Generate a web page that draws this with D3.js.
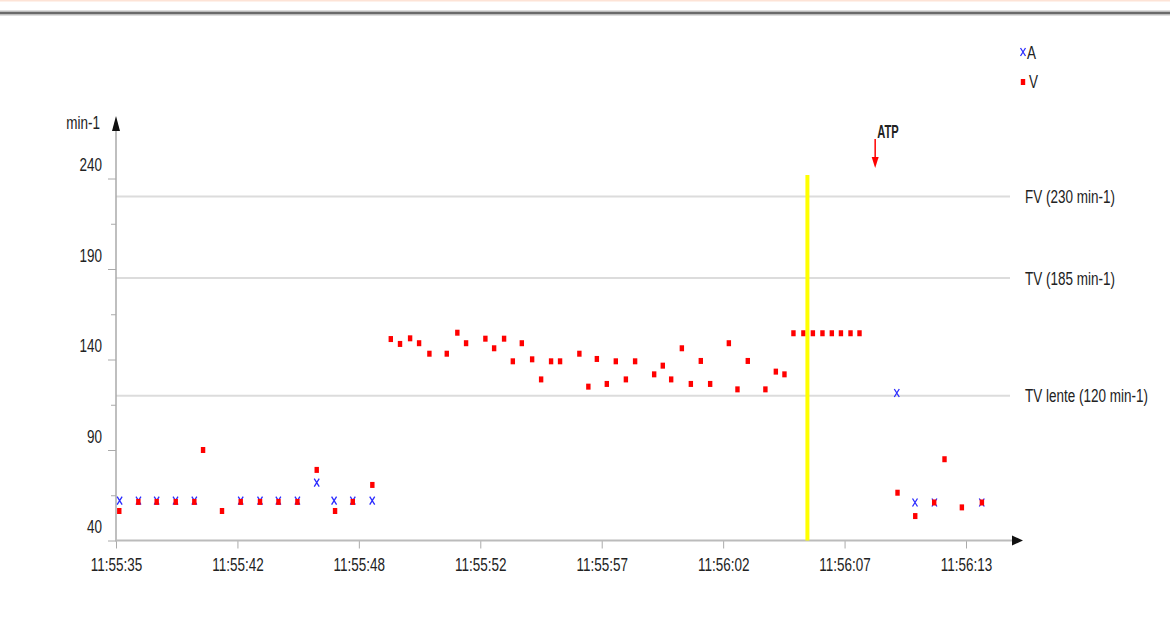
<!DOCTYPE html>
<html>
<head>
<meta charset="utf-8">
<script src="https://cdn.jsdelivr.net/npm/d3@7"></script>
<style>
    html, body { margin: 0; padding: 0; background: #fff; }
    svg text { font-family: 'Liberation Sans', Arial, sans-serif; fill: #222; }
</style>
</head>
<body>
<svg id="chart" width="1170" height="634"></svg>
<script>
'use strict';

// ------------ DATA ---------------- //

// x values are in axis divisions (one division between two labelled ticks)
const X_LABELS = ['11:55:35', '11:55:42', '11:55:48', '11:55:52', '11:55:57', '11:56:02', '11:56:07', '11:56:13'];
const Y_MAJOR  = [40, 90, 140, 190, 240];
const Y_MINOR  = [65, 115, 165, 215];

const LIMITS       = [230, 185, 120];
const LIMIT_LABELS = ['FV (230 min-1)', 'TV (185 min-1)', 'TV lente (120 min-1)'];

const A_X = [0.03, 0.185, 0.335, 0.49, 0.645, 1.027, 1.186, 1.337, 1.494, 1.653, 1.796, 1.95, 2.11,
             6.43, 6.58, 6.74, 7.13];
const A_Y = [62, 62, 62, 62, 62, 62, 62, 62, 62, 72, 62, 62, 62,
             121.5, 61, 61, 61];

const V_X = [0.027, 0.184, 0.335, 0.492, 0.645, 0.717, 0.873, 1.027, 1.186, 1.338, 1.494, 1.653, 1.804, 1.95, 2.111,
             2.263, 2.339, 2.422, 2.496, 2.581, 2.724, 2.811, 2.883, 3.042, 3.114, 3.196, 3.268, 3.342, 3.427,
             3.501, 3.583, 3.657, 3.816, 3.89, 3.96, 4.042, 4.116, 4.199, 4.275, 4.432, 4.503, 4.572, 4.66,
             4.734, 4.816, 4.893, 5.047, 5.118, 5.203, 5.348, 5.434, 5.505,
             5.579, 5.661, 5.739, 5.818, 5.895, 5.97, 6.049, 6.123,
             6.436, 6.582, 6.738, 6.823, 6.966, 7.131];
const V_Y = [56.3, 61.3, 61.3, 61.3, 61.3, 90, 56.3, 61.3, 61.3, 61.3, 61.3, 79, 56.3, 61.3, 70.7,
             151.3, 148.6, 151.7, 149, 143.2, 143.2, 154.8, 149, 151.5, 146.2, 151.5, 139, 149, 140.1,
             129, 139, 139, 143.2, 125, 140.3, 126.5, 139, 129, 139, 131.8, 136.6, 129, 146.2,
             126.5, 139.2, 126.5, 149, 123.5, 139.2, 123.5, 133.3, 131.8,
             154.5, 154.5, 154.5, 154.5, 154.5, 154.5, 154.5, 154.5,
             66.4, 53.5, 61, 84.9, 58.3, 61];

const SHOCK_X = 5.694;   // yellow marker
const ATP_X   = 6.252;   // ATP arrow

const FONT = 19;         // all texts use a narrow face, faked by a horizontal scale
const NARROW = 0.71;

// -------------  UTILS ------------- //

// move x/y of a text into a transform and squeeze it horizontally
const narrow = (sel, k = NARROW) => sel.each(function () {
    const t  = d3.select(this);
    const tx = +t.attr('x') || 0;
    const ty = +t.attr('y') || 0;
    t.attr('x', 0).attr('y', 0).attr('transform', `translate(${tx},${ty}) scale(${k},1)`);
});

const toPoints = (xs, ys) => xs.map((x, i) => ({x, y: ys[i]}));

// ---------------  DRAWING ------------- //

const drawChart = () => {
    const svg = d3.select('#chart');

    const x = d3.scaleLinear().domain([0, 7]).range([116, 966]);
    const y = d3.scaleLinear().domain([40, 240]).range([540.5, 178.5]);

    // page header bar
    svg.append('rect').attr('x', 0).attr('y', 0).attr('width', 1170).attr('height', 1.5).attr('fill', '#fde3d6');
    svg.append('rect').attr('x', 0).attr('y', 10.5).attr('width', 1170).attr('height', 5).attr('fill', '#bdbdbd');
    svg.append('rect').attr('x', 0).attr('y', 12).attr('width', 1170).attr('height', 2).attr('fill', '#6a6a6a');

    // limit lines
    svg.selectAll('.limit')
        .data(LIMITS)
        .enter()
            .append('line')
            .attr('class', 'limit')
            .attr('x1', x(0)).attr('x2', 1010)
            .attr('y1', d => y(d)).attr('y2', d => y(d))
            .attr('stroke', '#dcdcdc').attr('stroke-width', 2);

    svg.selectAll('.limit-label')
        .data(LIMITS)
        .enter()
            .append('text')
            .attr('class', 'limit-label')
            .attr('x', 1025)
            .attr('y', d => y(d) + 6.5)
            .attr('font-size', FONT)
            .text((d, i) => LIMIT_LABELS[i])
            .call(narrow);

    // y axis
    const yMajor = svg.append('g')
        .attr('transform', `translate(${x(0)},0)`)
        .call(d3.axisLeft(y).tickValues(Y_MAJOR).tickSize(8).tickPadding(6));
    yMajor.select('.domain').remove();
    yMajor.selectAll('line').attr('stroke', '#aaa');
    yMajor.selectAll('text')
        .attr('font-size', FONT).attr('fill', '#222').attr('y', -14)
        .call(narrow);

    const yMinor = svg.append('g')
        .attr('transform', `translate(${x(0)},0)`)
        .call(d3.axisLeft(y).tickValues(Y_MINOR).tickSize(5).tickFormat(''));
    yMinor.select('.domain').remove();
    yMinor.selectAll('line').attr('stroke', '#aaa');

    svg.append('line')
        .attr('x1', x(0)).attr('x2', x(0))
        .attr('y1', y(40) + 1).attr('y2', 128)
        .attr('stroke', '#aaa').attr('stroke-width', 1.5);
    svg.append('path')
        .attr('d', `M${x(0) - 4},131 L${x(0)},116 L${x(0) + 4},131 Z`)
        .attr('fill', '#111');
    svg.append('text')
        .attr('x', 100).attr('y', 129)
        .attr('text-anchor', 'end')
        .attr('font-size', FONT)
        .text('min-1')
        .call(narrow);

    // x axis
    const xAxis = svg.append('g')
        .attr('transform', `translate(0,${y(40)})`)
        .call(d3.axisBottom(x).tickValues(d3.range(X_LABELS.length)).tickFormat(i => X_LABELS[i]).tickSize(8).tickPadding(9));
    xAxis.select('.domain').remove();
    xAxis.selectAll('line').attr('stroke', '#aaa');
    xAxis.selectAll('text')
        .attr('font-size', FONT).attr('fill', '#222')
        .call(narrow);

    svg.append('line')
        .attr('x1', x(0)).attr('x2', 1014)
        .attr('y1', y(40)).attr('y2', y(40))
        .attr('stroke', '#bbb').attr('stroke-width', 2);
    svg.append('path')
        .attr('d', `M1012,${y(40) - 5} L1023,${y(40)} L1012,${y(40) + 5} Z`)
        .attr('fill', '#111');

    // A series (blue crosses)
    svg.selectAll('.a-pt')
        .data(toPoints(A_X, A_Y))
        .enter()
            .append('path')
            .attr('class', 'a-pt')
            .attr('d', d => {
                const cx = x(d.x), cy = y(d.y);
                return `M${cx - 2.5},${cy - 4} L${cx + 2.5},${cy + 4} M${cx + 2.5},${cy - 4} L${cx - 2.5},${cy + 4}`;
            })
            .attr('stroke', '#2b2bff').attr('stroke-width', 1.3).attr('fill', 'none');

    // V series (red squares)
    svg.selectAll('.v-pt')
        .data(toPoints(V_X, V_Y))
        .enter()
            .append('rect')
            .attr('class', 'v-pt')
            .attr('x', d => x(d.x) - 2.2)
            .attr('y', d => y(d.y) - 3)
            .attr('width', 4.4).attr('height', 6)
            .attr('fill', '#f00');

    // yellow shock marker
    svg.append('line')
        .attr('x1', x(SHOCK_X)).attr('x2', x(SHOCK_X))
        .attr('y1', y(242)).attr('y2', y(40))
        .attr('stroke', '#ffff00').attr('stroke-width', 4);

    // ATP arrow
    const ax = x(ATP_X);
    svg.append('line')
        .attr('x1', ax).attr('x2', ax).attr('y1', 139).attr('y2', 160)
        .attr('stroke', '#f00').attr('stroke-width', 1.5);
    svg.append('path')
        .attr('d', `M${ax - 3.5},157 L${ax},168 L${ax + 3.5},157 Z`)
        .attr('fill', '#f00');
    svg.append('text')
        .attr('x', ax + 2).attr('y', 138)
        .attr('font-size', 18).attr('font-weight', 'bold')
        .text('ATP')
        .call(narrow, 0.62);

    // legend
    const legend = svg.append('g').attr('transform', 'translate(1023,0)');
    legend.append('path')
        .attr('d', 'M-2.5,48 L2.5,56 M2.5,48 L-2.5,56')
        .attr('stroke', '#2b2bff').attr('stroke-width', 1.3);
    legend.append('text').attr('x', 4).attr('y', 59).attr('font-size', FONT).text('A').call(narrow);
    legend.append('rect').attr('x', -2.2).attr('y', 79).attr('width', 4.4).attr('height', 6).attr('fill', '#f00');
    legend.append('text').attr('x', 6).attr('y', 88).attr('font-size', FONT).text('V').call(narrow);
};

// --------------------   MAIN   ------------------- //

document.addEventListener('DOMContentLoaded', drawChart);
</script>
</body>
</html>
